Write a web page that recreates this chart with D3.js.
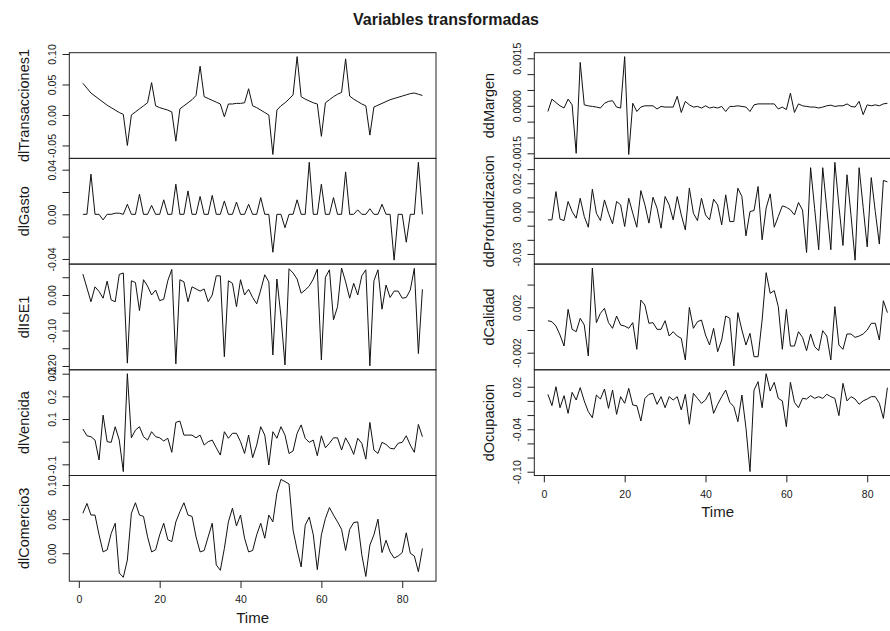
<!DOCTYPE html>
<html>
<head>
<meta charset="utf-8">
<script src="https://cdn.jsdelivr.net/npm/d3@7"></script>
<style>
  body { margin: 0; background: #fff; }
  text { font-family: "Liberation Sans", Arial, Helvetica, sans-serif; fill: #1a1a1a; }
</style>
</head>
<body>
<svg id="chart" width="890" height="631"></svg>
<script>
// ---- data: 85 observations per series ----
const time = d3.range(1, 86);

const dlTransacciones1 = [0.052,0.044,0.036,0.031,0.026,0.021,0.016,0.012,0.008,0.004,0.001,-0.050,0.000,0.005,0.010,0.015,0.020,0.053,0.015,0.012,0.010,0.008,0.005,-0.043,0.010,0.015,0.020,0.025,0.032,0.080,0.030,0.027,0.024,0.021,0.018,-0.003,0.018,0.018,0.019,0.019,0.020,0.043,0.015,0.012,0.008,0.004,0.000,-0.0648,0.008,0.015,0.020,0.026,0.033,0.0957,0.030,0.026,0.023,0.020,0.018,-0.035,0.020,0.025,0.030,0.034,0.037,0.092,0.031,0.026,0.022,0.018,0.015,-0.033,0.013,0.016,0.019,0.022,0.025,0.027,0.029,0.031,0.033,0.035,0.036,0.034,0.032];

const dlGasto = [0,0,0.036,0,0,-0.005,0,0,0.001,0.001,0,0.009,0,0,0.018,0,0,0.008,0,0,0.013,0,0,0.027,0,0,0.021,0,0,0.016,0,0,0.017,0,0,0.012,0,0,0.011,0,0,0.009,0,0,0.015,0,0,-0.034,0,0,-0.012,0,0,0.013,0,0,0.0466,0,0,0.027,0,0,0.015,0,0,0.038,0,0,0.004,0,0,0.005,0,0,0.009,0,0,-0.0411,0,0,-0.025,0,0,0.0466,0];

const dlISE1 = [0.059,0.020,-0.019,0.023,0.010,-0.009,0.039,-0.014,-0.019,0.058,0.062,-0.192,0.040,0.035,-0.044,0.043,0.025,0.000,0.014,-0.016,-0.012,0.040,0.072,-0.194,0.043,0.037,-0.019,0.023,0.017,0.011,0.017,-0.019,0.000,0.054,0.054,-0.174,0.040,0.033,-0.033,0.043,0.000,0.016,-0.007,-0.025,0.014,0.057,0.037,-0.169,0.045,-0.060,-0.197,0.074,0.062,0.045,0.005,0.014,0.025,0.045,0.073,-0.183,0.050,0.071,-0.070,-0.033,0.076,0.037,-0.009,0.033,0.000,0.054,0.071,-0.1997,0.040,0.071,-0.040,0.028,-0.007,0.011,0.011,-0.009,-0.007,0.014,0.075,-0.165,0.016];

const dlVencida = [0.056,0.026,0.022,0.007,-0.081,0.117,0.000,-0.003,0.066,0.007,-0.132,0.2999,0.017,0.051,0.066,0.022,0.007,0.044,0.022,0.017,0.003,0.015,-0.047,0.085,0.091,0.029,0.029,0.029,0.017,0.029,-0.015,0.000,0.007,-0.027,-0.059,0.044,0.015,0.037,0.037,0.000,-0.052,0.029,-0.071,-0.015,0.066,0.029,-0.103,0.044,0.015,0.066,0.029,-0.052,-0.041,0.037,0.074,0.015,-0.003,0.007,-0.062,0.026,-0.027,-0.007,0.017,0.017,-0.037,0.017,-0.015,-0.056,0.015,-0.007,-0.077,0.085,-0.037,-0.052,-0.003,-0.012,-0.029,-0.032,-0.007,-0.003,0.026,-0.015,-0.047,0.076,0.022];

const dlComercio3 = [0.0586,0.073,0.056,0.056,0.027,0.002,0.005,0.029,0.044,-0.029,-0.0352,-0.010,0.0586,0.074,0.056,0.054,0.024,0.002,0.005,0.027,0.044,0.020,0.017,0.046,0.061,0.074,0.056,0.054,0.024,0.002,0.004,0.024,0.044,-0.017,-0.025,0.007,0.046,0.066,0.040,0.056,0.022,0.002,0.004,0.027,0.044,0.022,0.056,0.046,0.088,0.1082,0.105,0.1015,0.034,0.005,-0.020,0.041,0.053,0.027,-0.024,0.027,0.051,0.067,0.056,0.046,0.035,0.004,0.035,0.045,0.046,-0.002,-0.034,0.012,0.027,0.050,0.001,0.019,0.002,-0.007,-0.004,0.001,0.030,0.000,-0.004,-0.027,0.007];

const ddMargen = [-0.00018,0.00021,0.0001,0,-0.00007,0.00021,0.00003,-0.00150,0.00137,0.00003,0,-0.00002,-0.00004,-0.00007,0.00008,0.00014,0.00016,-0.00004,-0.00007,0.001553,-0.001537,0.00008,-0.00018,-0.00004,0,0,0,-0.0001,-0.00002,-0.00004,-0.00004,-0.00004,0.0003,-0.00021,0.00014,0.00003,-0.00004,-0.00002,-0.00007,0,-0.00007,-0.00004,-0.00007,-0.00002,-0.00018,-0.00002,-0.00002,0,-0.00002,-0.00004,-0.00018,0.00003,0.00006,0.00006,0.00006,0.00006,0.00006,-0.0001,-0.00004,-0.00012,0.0004,-0.00021,0.00006,0,-0.00002,-0.00004,-0.00004,-0.00007,-0.00004,0,0.00002,-0.00002,0,0,0.00006,-0.00002,-0.00004,0.00014,-0.00028,0.00003,0,0.00003,0,0.00006,0.00008];

const ddProfundizacion = [-0.0059,-0.0059,0.0141,-0.0054,-0.0064,0.0071,0,-0.0047,0.0094,-0.0035,-0.0111,0.0158,-0.0012,-0.0064,0.0082,-0.0012,-0.0087,0.0071,0.0047,-0.0106,0.0094,-0.0012,-0.0111,0.0148,0.0047,-0.0082,0.0101,0.0024,-0.0118,0.0106,0.0047,-0.0059,0.0106,-0.0024,-0.013,0.0165,-0.0012,-0.0064,0.0094,-0.0024,-0.0059,0.0087,0.0047,-0.0094,0.0118,-0.0071,-0.0071,0.0165,0.0106,-0.0172,0,0.0007,0.0177,-0.02,0.0024,0.0125,-0.0111,-0.0035,0.004,0.003,0.0012,-0.0024,0.0064,0.001,-0.029,0.031,0.002,-0.027,0.031,0.002,-0.027,0.0348,0.004,-0.024,0.026,-0.003,-0.0344,0.031,0.003,-0.025,0.024,0,-0.023,0.022,0.021];

const dCalidad = [0.00082,0.00073,0.00035,-0.00044,-0.00141,0.00182,0.00006,-0.00015,0.00103,0.00044,-0.00229,0.00546,0.00065,0.00147,0.00191,0.00065,0.00015,0.00123,0.00044,0.00035,0.00015,0.00065,-0.0017,0.00264,0.0022,0.00059,0.00065,0.00006,0.00006,0.00082,-0.00053,-0.00015,-0.00053,-0.00073,-0.00264,0.002,0.00015,0.00073,0.00088,-0.00044,-0.00132,0.00015,-0.00191,-0.00088,0.00123,0.00103,-0.00316,0.00153,0,-0.00132,-0.00029,-0.00235,-0.00235,0.00088,0.00505,0.00323,0.00347,0.00206,-0.0017,0.00182,-0.00141,-0.00141,-0.00015,-0.00065,-0.00182,-0.00035,-0.00147,-0.00182,-0.00006,-0.00053,-0.00264,0.00206,-0.00132,-0.0017,-0.00035,-0.00035,-0.00065,-0.00053,-0.00035,0,0.00059,0.00059,-0.00088,0.00258,0.00153];

const dOcupacion = [0.0093,-0.0067,0.020,-0.0096,0.0074,-0.0176,0.0121,0.0013,0.0187,0,-0.0152,-0.0237,0.0083,0.0027,0.0168,-0.0105,0.0154,-0.019,0.006,-0.0034,0.0177,-0.0058,-0.0067,-0.0284,0.0036,0.0093,0.0107,-0.0048,0.006,-0.0096,0.006,0.0013,0.006,-0.0128,0.0093,-0.033,0.0107,0.0036,-0.0034,0.0013,0.0121,-0.0176,-0.0048,0.006,0.0154,-0.002,-0.0081,-0.0293,0.0083,-0.0378,-0.0998,0.0154,0.0272,-0.0096,0.0384,0.014,0.0262,0.0036,0,-0.0364,0.0262,-0.002,-0.0096,0.0036,0.0027,0.0074,0.0036,0.006,0.0036,0.0093,0.006,0.0036,-0.0208,0.0248,0,0.006,0.0027,-0.0048,0,0.0027,0.006,0.006,-0.0034,-0.0247,0.0187];

// ---- axis ticks (all marks) and the subset of them that carry a label ----
const ticksTransacciones = [-0.05, 0, 0.05, 0.10];   const labelsTransacciones = [-0.05, 0, 0.05, 0.10];
const ticksGasto = [-0.04, -0.02, 0, 0.02, 0.04];     const labelsGasto = [-0.04, 0, 0.04];
const ticksISE = [-0.20, -0.15, -0.10, -0.05, 0, 0.05]; const labelsISE = [-0.20, -0.10, 0];
const ticksVencida = [-0.1, 0, 0.1, 0.2, 0.3];        const labelsVencida = [-0.1, 0.1, 0.2, 0.3];
const ticksComercio = [0, 0.05, 0.10];                const labelsComercio = [0, 0.05, 0.10];
const ticksMargen = [-0.0015, -0.001, -0.0005, 0, 0.0005, 0.001, 0.0015]; const labelsMargen = [-0.0015, 0, 0.0015];
const ticksProf = [-0.03, -0.02, -0.01, 0, 0.01, 0.02, 0.03]; const labelsProf = [-0.03, 0, 0.02];
const ticksCalidad = [-0.002, 0, 0.002, 0.004];       const labelsCalidad = [-0.002, 0.002];
const ticksOcupacion = [-0.10, -0.08, -0.06, -0.04, -0.02, 0, 0.02]; const labelsOcupacion = [-0.10, -0.04, 0.02];
const timeTicks = [0, 20, 40, 60, 80];

const panels = [
  { name: "dlTransacciones1", values: dlTransacciones1, ticks: ticksTransacciones, labels: labelsTransacciones, digits: 2 },
  { name: "dlGasto",          values: dlGasto,          ticks: ticksGasto,         labels: labelsGasto,         digits: 2 },
  { name: "dlISE1",           values: dlISE1,           ticks: ticksISE,           labels: labelsISE,           digits: 2 },
  { name: "dlVencida",        values: dlVencida,        ticks: ticksVencida,       labels: labelsVencida,       digits: 1 },
  { name: "dlComercio3",      values: dlComercio3,      ticks: ticksComercio,      labels: labelsComercio,      digits: 2 },
  { name: "ddMargen",         values: ddMargen,         ticks: ticksMargen,        labels: labelsMargen,        digits: 4 },
  { name: "ddProfundizacion", values: ddProfundizacion, ticks: ticksProf,          labels: labelsProf,          digits: 2 },
  { name: "dCalidad",         values: dCalidad,         ticks: ticksCalidad,       labels: labelsCalidad,       digits: 3 },
  { name: "dOcupacion",       values: dOcupacion,       ticks: ticksOcupacion,     labels: labelsOcupacion,     digits: 2 }
];
const columns = [panels.slice(0, 5), panels.slice(5)];

// ---- layout ----
const colLeft = [69.3, 534.3];
const plotW = 366.7;
const panelTop = 52.7;
const panelH = 105.7;
const tickLen = 6.8;

const svg = d3.select("#chart");

// extend a range by 4% on each side
const pad = ([a, b]) => { const d = (b - a) * 0.04; return [a - d, b + d]; };
const fmt = (v, digits) => (Math.abs(v) < 1e-12 ? 0 : v).toFixed(digits);

svg.append("text")
  .attr("x", 446).attr("y", 25)
  .attr("text-anchor", "middle")
  .style("font-size", "16px").style("font-weight", "bold")
  .text("Variables transformadas");

columns.forEach((col, c) => {
  const left = colLeft[c];
  const x = d3.scaleLinear().domain(pad(d3.extent(time))).range([left, left + plotW]);

  col.forEach((p, r) => {
    const y0 = panelTop + r * panelH;
    const y = d3.scaleLinear().domain(pad(d3.extent(p.values))).range([y0 + panelH, y0]);
    const g = svg.append("g");

    // y axis: ticks, labels parallel to the axis
    const labelSet = new Set(p.labels.map(v => fmt(v, p.digits)));
    const ay = g.append("g")
      .attr("transform", `translate(${left},0)`)
      .call(d3.axisLeft(y).tickValues(p.ticks).tickSize(tickLen).tickSizeOuter(0)
        .tickFormat(v => labelSet.has(fmt(v, p.digits)) ? fmt(v, p.digits) : ""));
    ay.select(".domain").remove();
    ay.selectAll(".tick line").attr("stroke", "#222");
    ay.selectAll(".tick text")
      .attr("x", null).attr("dy", null)
      .attr("text-anchor", "middle")
      .attr("transform", "translate(-13,0) rotate(-90)")
      .style("font-size", "10.5px")
      .attr("fill", "#1a1a1a");

    // series name
    g.append("text")
      .attr("transform", `translate(${left - 40},${y0 + panelH / 2}) rotate(-90)`)
      .attr("text-anchor", "middle")
      .style("font-size", "14.5px")
      .text(p.name);

    // series line
    g.append("path")
      .datum(p.values)
      .attr("fill", "none")
      .attr("stroke", "#111")
      .attr("stroke-width", 1)
      .attr("stroke-linejoin", "round")
      .attr("d", d3.line().x((d, i) => x(time[i])).y(d => y(d)));

    // panel frame
    g.append("rect")
      .attr("x", left).attr("y", y0)
      .attr("width", plotW).attr("height", panelH)
      .attr("fill", "none").attr("stroke", "#222").attr("stroke-width", 1);

    // time axis under the last panel of the column
    if (r === col.length - 1) {
      const yb = y0 + panelH;
      const ax = svg.append("g")
        .attr("transform", `translate(0,${yb})`)
        .call(d3.axisBottom(x).tickValues(timeTicks).tickSize(tickLen).tickSizeOuter(0).tickFormat(d3.format("d")));
      ax.select(".domain").remove();
      ax.selectAll(".tick line").attr("stroke", "#222");
      ax.selectAll(".tick text")
        .attr("y", 22.3).attr("dy", null)
        .style("font-size", "10.5px")
        .attr("fill", "#1a1a1a");

      svg.append("text")
        .attr("x", left + plotW / 2)
        .attr("y", yb + 41.5)
        .attr("text-anchor", "middle")
        .style("font-size", "15px")
        .text("Time");
    }
  });
});
</script>
</body>
</html>
